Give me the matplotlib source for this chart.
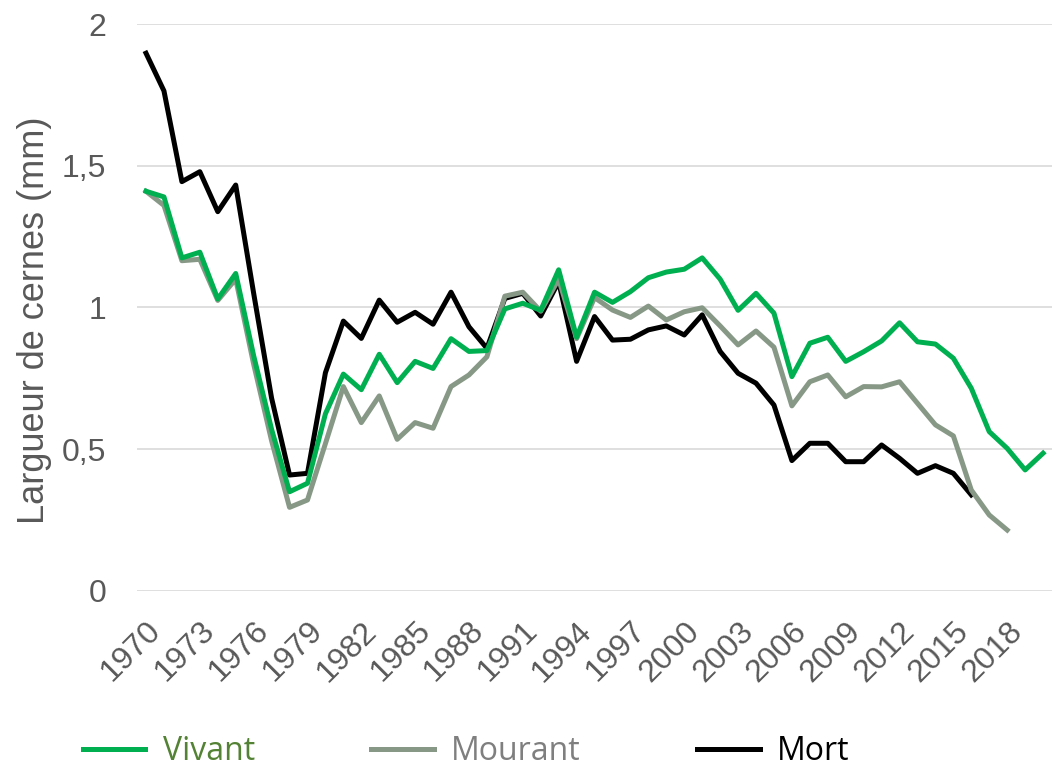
import matplotlib
matplotlib.use("Agg")
import matplotlib.pyplot as plt
import matplotlib.transforms as mtransforms

# données (largeur de cernes, mm)
years_vivant = list(range(1970, 2021))
years_mourant = list(range(1970, 2019))
years_mort = list(range(1970, 2017))

vivant = [1.41, 1.39, 1.175, 1.195, 1.03, 1.12, 0.83, 0.57, 0.35, 0.38,
          0.625, 0.765, 0.71, 0.835, 0.735, 0.81, 0.785, 0.89, 0.845, 0.848,
          0.995, 1.015, 0.99, 1.133, 0.895, 1.054, 1.018, 1.056, 1.105, 1.125,
          1.135, 1.175, 1.1, 0.99, 1.05, 0.98, 0.756, 0.874, 0.895, 0.81,
          0.844, 0.882, 0.946, 0.879, 0.871, 0.821, 0.715, 0.562, 0.503, 0.427,
          0.486]
mourant = [1.41, 1.36, 1.165, 1.17, 1.025, 1.10, 0.80, 0.53, 0.295, 0.321,
           0.52, 0.721, 0.594, 0.688, 0.535, 0.594, 0.574, 0.721, 0.762, 0.826,
           1.04, 1.054, 0.987, 1.10, 0.89, 1.035, 0.991, 0.965, 1.005, 0.956,
           0.985, 0.999, 0.935, 0.868, 0.917, 0.86, 0.653, 0.738, 0.762, 0.685,
           0.721, 0.72, 0.738, 0.662, 0.586, 0.547, 0.356, 0.268, 0.215]
mort = [1.897, 1.764, 1.444, 1.479, 1.338, 1.432, 1.05, 0.68, 0.409, 0.415,
        0.77, 0.952, 0.891, 1.026, 0.948, 0.983, 0.941, 1.054, 0.932, 0.856,
        1.032, 1.05, 0.97, 1.091, 0.81, 0.968, 0.885, 0.888, 0.921, 0.935,
        0.903, 0.974, 0.845, 0.768, 0.733, 0.656, 0.46, 0.521, 0.521, 0.456,
        0.456, 0.515, 0.468, 0.415, 0.442, 0.415, 0.339]

xticks = list(range(1970, 2019, 3))
yticks = [0, 0.5, 1, 1.5, 2]
ytick_labels = ["0", "0,5", "1", "1,5", "2"]

col_vivant = "#00B050"
col_mourant = "#879886"
col_mort = "#000000"
tick_col = "#595959"

fig = plt.figure(figsize=(10.55, 7.67), dpi=100)
ax = fig.add_axes([0.1299, 0.2295, 0.8673, 0.7392])

ax.plot(years_mort, mort, color=col_mort, lw=3.6, zorder=3, label="Mort")
ax.plot(years_mourant, mourant, color=col_mourant, lw=3.6, zorder=4, label="Mourant")
ax.plot(years_vivant, vivant, color=col_vivant, lw=3.6, zorder=5, label="Vivant")

ax.set_xlim(1969.5, 2020.5)
ax.set_ylim(0, 2)
ax.set_yticks(yticks)
ax.set_yticklabels(ytick_labels, fontsize=23, color=tick_col, family="Liberation Sans")
ax.set_xticks(xticks)
ax.set_xticklabels([str(y) for y in xticks], fontsize=23, color=tick_col,
                   family="Liberation Sans", rotation=45, ha="right", va="top",
                   rotation_mode="anchor")
# petit décalage vers la gauche des étiquettes d'années
shift = mtransforms.ScaledTranslation(-7 / 100, 0, fig.dpi_scale_trans)
for lab in ax.get_xticklabels():
    lab.set_transform(lab.get_transform() + shift)
ax.tick_params(axis="both", length=0)
ax.tick_params(axis="y", pad=22)
ax.tick_params(axis="x", pad=18)
ax.grid(axis="y", color="#d9d9d9", lw=1.2, zorder=0)
ax.set_axisbelow(True)
for s in ax.spines.values():
    s.set_visible(False)

ax.set_ylabel("Largueur de cernes (mm)", fontsize=26, color=tick_col,
              family="Liberation Sans")
ax.yaxis.set_label_coords(-0.093, 0.478)

handles, labels = ax.get_legend_handles_labels()
order = [2, 1, 0]
leg = fig.legend([handles[i] for i in order], [labels[i] for i in order],
                 loc="center", bbox_to_anchor=(0.442, 0.02), ncol=3,
                 frameon=False, prop={"family": "Open Sans", "size": 23},
                 handlelength=1.95, handletextpad=0.55, columnspacing=3.65)
for txt, c in zip(leg.get_texts(), ["#548235", "#7F7F7F", "#000000"]):
    txt.set_color(c)

plt.savefig("out.png", dpi=100)
